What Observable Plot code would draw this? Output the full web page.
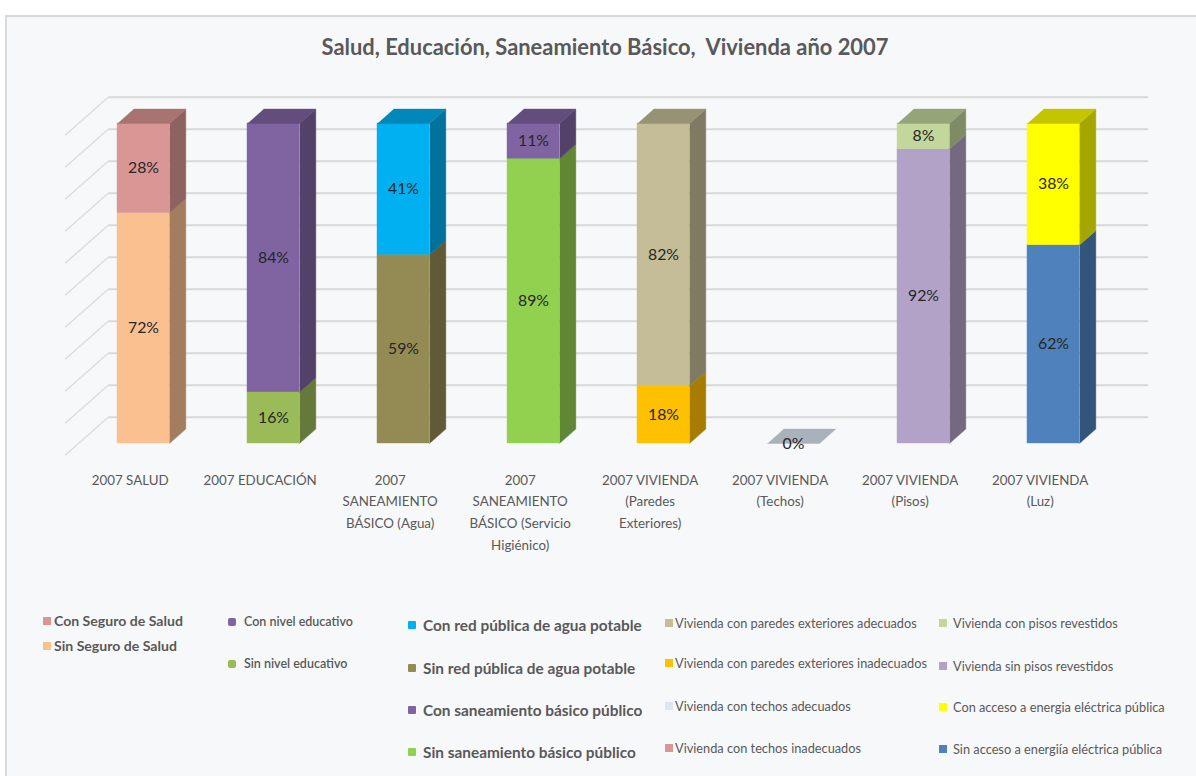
<!DOCTYPE html>
<html><head><meta charset="utf-8">
<script src="https://cdn.jsdelivr.net/npm/d3@7"></script>
<script src="https://cdn.jsdelivr.net/npm/@observablehq/plot@0.6"></script>
<style>
body{margin:0;background:#fff;}
#page{position:relative;width:1196px;height:776px;overflow:hidden;}
#frame{position:absolute;left:5px;top:15px;width:1200px;height:780px;background:#f7f8f9;border-left:2px solid #d9d9d9;border-top:2px solid #d9d9d9;box-sizing:border-box;}
#title{position:absolute;left:0;top:33px;width:1210px;text-align:center;font-weight:bold;color:#595959;white-space:pre;line-height:28px;}
#chart{position:absolute;left:0;top:80px;}
.leg{position:absolute;color:#595959;white-space:pre;line-height:20px;height:20px;}
.mk{position:absolute;width:8px;height:8px;}
</style>
</head><body>
<div id="page">
  <div id="frame"></div>
  <div id="title"></div>
  <div id="chart"></div>
  <div id="legend"></div>
</div>
<script>
// ---------- data ----------
const title = "Salud, Educación, Saneamiento Básico,  Vivienda año 2007";
const categories = [
  "2007 SALUD",
  "2007 EDUCACIÓN",
  "2007\nSANEAMIENTO\nBÁSICO (Agua)",
  "2007\nSANEAMIENTO\nBÁSICO (Servicio\nHigiénico)",
  "2007 VIVIENDA\n(Paredes\nExteriores)",
  "2007 VIVIENDA\n(Techos)",
  "2007 VIVIENDA\n(Pisos)",
  "2007 VIVIENDA\n(Luz)"
];
const topSeries = [
  "Con Seguro de Salud",
  "Con nivel educativo",
  "Con red pública de agua potable",
  "Con saneamiento básico público",
  "Vivienda con paredes exteriores adecuados",
  "Vivienda con techos adecuados",
  "Vivienda con pisos revestidos",
  "Con acceso a energia eléctrica pública"
];
const bottomSeries = [
  "Sin Seguro de Salud",
  "Sin nivel educativo",
  "Sin red pública de agua potable",
  "Sin saneamiento básico público",
  "Vivienda con paredes exteriores inadecuados",
  "Vivienda con techos inadecuados",
  "Vivienda sin pisos revestidos",
  "Sin acceso a energiía eléctrica pública"
];
const topValues    = [28, 84, 41, 11, 82, 0, 8, 38];
const bottomValues = [72, 16, 59, 89, 18, 0, 92, 62];
const topColors    = ["#D99694", "#8064A2", "#00B0F0", "#8064A2", "#C4BD97", "#DCE6F2", "#C3D69B", "#FFFF00"];
const bottomColors = ["#FAC090", "#9BBB59", "#948A54", "#92D050", "#FFC000", "#D99694", "#B3A2C7", "#4F81BD"];
const gridValues = [0, 10, 20, 30, 40, 50, 60, 70, 80, 90, 100];

// ---------- fonts / sizing ----------
const FONT = '"Liberation Sans Narrow", "Arial Narrow", Lato, sans-serif';
const ctx = document.createElement("canvas").getContext("2d");
function fit(text, weight, target) {
  ctx.font = `${weight} 20px ${FONT}`;
  return 20 * target / ctx.measureText(text).width;
}

// ---------- 3D oblique geometry (in data units) ----------
const DX = 43 / 130;      // x-shift for full depth (category units)
const DY = 38 / 3.2;      // y-shift for full depth (percent units)
const Z_FRONT = 0.31, Z_BACK = 0.69, Z_WALL = 1;
const BAR_L = 0.3, BAR_R = 0.7;
const shade = (c, f) => { const r = d3.rgb(c); return d3.rgb(r.r * f, r.g * f, r.b * f).formatHex(); };
const px = (c, z) => c + (z - Z_FRONT) * DX;
const py = (v, z) => v + (z - Z_FRONT) * DY;

const segs = [];
categories.forEach((cat, i) => {
  segs.push({i, series: bottomSeries[i], value: bottomValues[i], v0: 0, v1: bottomValues[i], color: bottomColors[i], pos: "b"});
  segs.push({i, series: topSeries[i], value: topValues[i], v0: bottomValues[i], v1: bottomValues[i] + topValues[i], color: topColors[i], pos: "t"});
});

const sidePts = [];
segs.forEach((s, k) => {
  if (s.v1 === s.v0) return;
  const R = s.i + BAR_R, col = shade(s.color, 0.65);
  [[R, s.v0, Z_FRONT], [R, s.v0, Z_BACK], [R, s.v1, Z_BACK], [R, s.v1, Z_FRONT]]
    .forEach(([c, v, z]) => sidePts.push({id: "s" + k, x: px(c, z), y: py(v, z), color: col}));
});
const topPts = [];
categories.forEach((cat, i) => {
  const vt = bottomValues[i] + topValues[i], L = i + BAR_L, R = i + BAR_R, col = shade(topColors[i], 0.77);
  [[L, Z_FRONT], [R, Z_FRONT], [R, Z_BACK], [L, Z_BACK]]
    .forEach(([c, z]) => topPts.push({id: "t" + i, x: px(c, z), y: py(vt, z), color: col}));
});

const labels = segs.filter(s => !(s.pos === "t" && s.value === 0 && bottomValues[s.i] === 0));
const catData = categories.map((c, i) => ({c, i}));

const pctSize = fit("72%", "normal", 31);
const catSize = fit("2007 SALUD", "normal", 77);

const chart = Plot.plot({
  width: 1196,
  height: 500,
  x: {type: "linear", domain: [0, 8], range: [78, 1118], axis: null},
  y: {type: "linear", domain: [0, 100], range: [363, 43], axis: null},
  color: {type: "identity"},
  style: {background: "transparent", fontFamily: FONT, overflow: "visible"},
  marks: [
    // back wall gridlines
    Plot.link(gridValues, {x1: px(0, Z_WALL), x2: px(8, Z_WALL), y1: v => py(v, Z_WALL), y2: v => py(v, Z_WALL), stroke: "#d9d9d9", strokeWidth: 2}),
    // side wall gridlines
    Plot.link(gridValues, {x1: px(0, Z_WALL), x2: px(0, 0), y1: v => py(v, Z_WALL), y2: v => py(v, 0), stroke: "#dcdcdc", strokeWidth: 1.5}),
    // bar front faces
    Plot.rect(segs.filter(s => s.v1 > s.v0), {x1: d => d.i + BAR_L, x2: d => d.i + BAR_R, y1: "v0", y2: "v1", fill: "color", stroke: "color", strokeWidth: 0.4}),
    // bar side faces
    Plot.line(sidePts, {x: "x", y: "y", z: "id", fill: "color", stroke: "color", strokeWidth: 0.4}),
    // bar top faces
    Plot.line(topPts, {x: "x", y: "y", z: "id", fill: "color", stroke: "color", strokeWidth: 0.4}),
    // value labels
    Plot.text(labels, {x: d => d.i + 0.5, y: d => (d.v0 + d.v1) / 2, text: d => d.value + "%", fill: "#262626", fontSize: pctSize}),
    // category labels
    Plot.text(catData, {x: d => px(d.i + 0.5, 0), y: py(0, 0), text: "c", lineAnchor: "top", dy: 14, fill: "#595959", fontSize: catSize, lineHeight: 21.7 / catSize})
  ]
});
document.getElementById("chart").appendChild(chart);

// ---------- title ----------
const t = document.getElementById("title");
t.textContent = title;
t.style.fontFamily = FONT;
t.style.fontSize = fit(title, "bold", 568) + "px";

// ---------- legend ----------
const legendCols = [
  {cats: [0], x: 43, tx: 54, rows: [621, 646], weight: "bold", ref: ["Con Seguro de Salud", 129], round: 0},
  {cats: [1], x: 228, tx: 244, rows: [622, 664], weight: "600", ref: ["Con nivel educativo", 109], round: 2},
  {cats: [2, 3], x: 408, tx: 423, rows: [625, 668, 710, 752], weight: "bold", ref: ["Con red pública de agua potable", 219], round: 1},
  {cats: [4, 5], x: 665, tx: 675, rows: [623, 663, 706, 748], weight: "normal", ref: ["Vivienda con paredes exteriores adecuados", 242], round: 0},
  {cats: [6, 7], x: 939, tx: 953, rows: [623, 666, 707, 749], weight: "normal", ref: ["Vivienda con pisos revestidos", 165], round: 0}
];
const leg = document.getElementById("legend");
legendCols.forEach(col => {
  const size = fit(col.ref[0], col.weight, col.ref[1]);
  const items = [];
  col.cats.forEach(i => { items.push([topSeries[i], topColors[i]]); items.push([bottomSeries[i], bottomColors[i]]); });
  items.forEach(([name, color], r) => {
    const y = col.rows[r];
    const m = document.createElement("div");
    m.className = "mk";
    m.style.left = col.x + "px"; m.style.top = (y - 4) + "px";
    m.style.background = color; m.style.borderRadius = col.round + "px";
    leg.appendChild(m);
    const d = document.createElement("div");
    d.className = "leg";
    d.textContent = name;
    d.style.left = col.tx + "px"; d.style.top = (y - 10) + "px";
    d.style.fontFamily = FONT; d.style.fontWeight = col.weight; d.style.fontSize = size + "px";
    leg.appendChild(d);
  });
});
</script>
</body></html>
